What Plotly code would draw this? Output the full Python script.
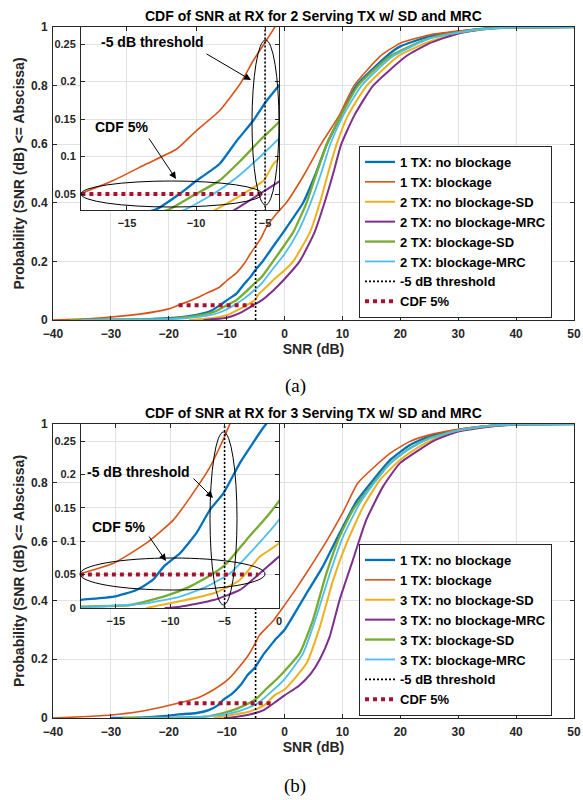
import plotly.graph_objects as go

W, H = 583, 800

# ---------------- data: panel (a), 2 serving TX ----------------
names_a = ['1 TX: no blockage', '1 TX: blockage', '2 TX: no blockage-SD',
           '2 TX: no blockage-MRC', '2 TX: blockage-SD', '2 TX: blockage-MRC']

a_blue_x = [-35, -30, -25, -20, -16, -12.85, -11.2, -9.95, -8.3, -7.05, -5.85, -4.9, -3.9, -2, -0.2,
            3.2, 5.4, 7.3, 9.8, 12.4, 17.6, 19.9, 25, 30, 35, 40, 50]
a_blue_y = [0, 0.001, 0.002, 0.006, 0.015, 0.03, 0.05, 0.068, 0.09, 0.121, 0.148, 0.174, 0.197, 0.25, 0.3,
            0.4, 0.5, 0.6, 0.7, 0.8, 0.9, 0.933, 0.968, 0.984, 0.995, 0.999, 1.0]
a_org_x = [-40, -35, -30, -25, -20, -18.4, -16, -13.6, -11.4, -10, -8.3, -6.8, -5.85, -4.9, -4.15, -3.1,
           -1.5, 0.3, 3.5, 6.3, 9.5, 12.0, 16.5, 19.9, 25, 30, 35, 40, 50]
a_org_y = [0, 0.003, 0.01, 0.02, 0.038, 0.05, 0.068, 0.09, 0.11, 0.134, 0.161, 0.197, 0.228, 0.255, 0.277,
           0.318, 0.36, 0.4, 0.5, 0.6, 0.7, 0.8, 0.9, 0.944, 0.973, 0.986, 0.995, 0.999, 1.0]
a_yel_x = [-16.5, -12, -10, -8.5, -6.6, -5.1, -4.4, -3.9, -2, 0, 1.5, 4.4, 6.1, 7.5, 9.0, 11.0, 14.2,
           19.6, 25, 30, 35, 40, 50]
a_yel_y = [0, 0.008, 0.016, 0.03, 0.05, 0.068, 0.09, 0.099, 0.135, 0.17, 0.2, 0.3, 0.4, 0.5, 0.6, 0.7, 0.8,
           0.9, 0.95, 0.978, 0.993, 0.999, 1.0]
a_pur_x = [-14, -10, -7.3, -5.4, -3.9, -2, 0, 2.6, 5.2, 6.9, 8.4, 9.8, 12.1, 15.3, 21, 25, 30, 35, 40, 50]
a_pur_y = [0, 0.008, 0.028, 0.05, 0.068, 0.1, 0.14, 0.2, 0.3, 0.4, 0.5, 0.6, 0.7, 0.8, 0.9, 0.944, 0.978,
           0.995, 0.999, 1.0]
a_grn_x = [-37, -30, -25, -20, -15, -11.9, -10.2, -8.3, -6.8, -5.4, -3.9, -2, 0, 1.5, 3.8, 5.5, 7.3, 9.8,
           12.7, 18.2, 25, 30, 35, 40, 50]
a_grn_y = [0, 0.001, 0.002, 0.004, 0.015, 0.03, 0.048, 0.068, 0.094, 0.121, 0.148, 0.2, 0.256, 0.3, 0.4,
           0.5, 0.6, 0.7, 0.8, 0.9, 0.962, 0.982, 0.994, 0.999, 1.0]
a_cyn_x = [-35, -30, -20, -15, -12.5, -10.7, -8.75, -7.05, -5.4, -3.9, -2, 0, 2.3, 4.5, 6.3, 7.9, 10.2,
           13.3, 18.7, 25, 30, 35, 40, 50]
a_cyn_y = [0, 0.0005, 0.003, 0.01, 0.018, 0.03, 0.05, 0.072, 0.099, 0.126, 0.175, 0.225, 0.3, 0.4, 0.5,
           0.6, 0.7, 0.8, 0.9, 0.96, 0.981, 0.994, 0.999, 1.0]
a_cdf5_x = [-18.3, -5.3]
a_cdf5_y = [0.05, 0.05]

# ---------------- data: panel (b), 3 serving TX ----------------
names_b = ['1 TX: no blockage', '1 TX: blockage', '3 TX: no blockage-SD',
           '3 TX: no blockage-MRC', '3 TX: blockage-SD', '3 TX: blockage-MRC']

b_blue_x = [-30, -25, -20.4, -18.3, -15.2, -13.1, -11.6, -10.6, -9.1, -7.6, -6.35, -5.1, -3.6, -2.4, -1.4,
            0, 3.8, 6.6, 9.5, 12.4, 15.3, 18.2, 21.6, 25, 30, 35, 40, 50]
b_blue_y = [0, 0.001, 0.007, 0.012, 0.017, 0.027, 0.042, 0.062, 0.082, 0.112, 0.147, 0.172, 0.217, 0.247,
            0.271, 0.3, 0.424, 0.515, 0.628, 0.736, 0.809, 0.877, 0.928, 0.958, 0.98, 0.993, 0.999, 1.0]
b_org_x = [-40, -35, -30, -25, -20.4, -18.3, -15.2, -12.2, -9.7, -7.9, -6.35, -5.1, -4.35, -2, 0, 2, 4.0,
           7.2, 10.1, 12.7, 18.2, 21.6, 25, 30, 35, 40, 50]
b_org_y = [0, 0.004, 0.01, 0.022, 0.041, 0.051, 0.067, 0.097, 0.132, 0.172, 0.211, 0.253, 0.281, 0.33,
           0.384, 0.44, 0.5, 0.6, 0.7, 0.8, 0.9, 0.94, 0.963, 0.982, 0.994, 0.999, 1.0]
b_yel_x = [-12.2, -9.1, -6.0, -3.6, -1.75, 0, 3.8, 6.1, 8.4, 10.7, 13.6, 16.5, 19.9, 23, 26, 30, 35, 40, 50]
b_yel_y = [0, 0.01, 0.022, 0.042, 0.077, 0.097, 0.186, 0.31, 0.47, 0.594, 0.719, 0.81, 0.877, 0.92, 0.95,
           0.976, 0.992, 0.999, 1.0]
b_pur_x = [-10.5, -9.1, -6.0, -3.6, -1.75, 0, 2.5, 4.5, 6.1, 7.8, 9.5, 11.8, 14.1, 17, 19.9, 22.8, 26, 30,
           35, 40, 50]
b_pur_y = [0, 0.002, 0.012, 0.027, 0.052, 0.077, 0.11, 0.15, 0.2, 0.277, 0.401, 0.537, 0.673, 0.787, 0.866,
           0.906, 0.945, 0.974, 0.99, 0.998, 1.0]
b_grn_x = [-28, -20, -18.3, -13.7, -10.6, -8.2, -6.0, -4.8, -3.0, -1.1, 0, 2.6, 4.9, 7.2, 9.5, 11.8, 15.3,
           18.2, 21.6, 25, 30, 35, 40, 50]
b_grn_y = [0, 0.001, 0.002, 0.0045, 0.017, 0.032, 0.052, 0.067, 0.102, 0.137, 0.16, 0.22, 0.333, 0.49,
           0.617, 0.707, 0.798, 0.866, 0.917, 0.952, 0.978, 0.993, 0.999, 1.0]
b_cyn_x = [-25, -18, -12.2, -9.1, -6.65, -4.5, -2.4, 0, 3.2, 5.5, 7.8, 10.1, 13, 15.9, 18.8, 22, 25, 30, 35,
           40, 50]
b_cyn_y = [0, 0.001, 0.007, 0.017, 0.032, 0.052, 0.087, 0.132, 0.22, 0.345, 0.49, 0.617, 0.73, 0.81, 0.877,
           0.92, 0.95, 0.978, 0.993, 0.999, 1.0]
b_cdf5_x = [-18.3, -1.9]
b_cdf5_y = [0.05, 0.05]

thr_x = [-5, -5]
thr_y = [0, 1]

titles = ['CDF of SNR at RX for 2 Serving TX w/ SD and MRC',
          'CDF of SNR at RX for 3 Serving TX w/ SD and MRC']
panel_labels = ['(a)', '(b)']
main_xticks = [-40, -30, -20, -10, 0, 10, 20, 30, 40, 50]
main_yticks = [0, 0.2, 0.4, 0.6, 0.8, 1]
main_yticktext = ['0', '0.2', '0.4', '0.6', '0.8', '1']
inset_a_xticks = [-15, -10, -5]
inset_a_yticks = [0.05, 0.1, 0.15, 0.2, 0.25]
inset_a_yticktext = ['0.05', '0.1', '0.15', '0.2', '0.25']
inset_b_xticks = [-15, -10, -5, 0]
inset_b_yticks = [0, 0.05, 0.1, 0.15, 0.2, 0.25]
inset_b_yticktext = ['0', '0.05', '0.1', '0.15', '0.2', '0.25']

colors = ['#0072BD', '#D95319', '#EDB120', '#7E2F8E', '#77AC30', '#4DBEEE']
widths = [2.3, 1.6, 2.0, 2.0, 2.3, 1.8]

FONT = 'Liberation Sans, Arial, sans-serif'
AX = '#262626'
GRID = '#e2e2e2'


def px(x):
    """window pixel (reference picture) -> paper fraction"""
    return x / W


def py(y):
    return 1 - y / H


fig = go.Figure()

panels = [
    dict(series=[(a_blue_x, a_blue_y), (a_org_x, a_org_y), (a_yel_x, a_yel_y), (a_pur_x, a_pur_y),
                 (a_grn_x, a_grn_y), (a_cyn_x, a_cyn_y)],
         names=names_a, cdf5=(a_cdf5_x, a_cdf5_y), main=('x', 'y'), inset=('x2', 'y2'), legend='legend'),
    dict(series=[(b_blue_x, b_blue_y), (b_org_x, b_org_y), (b_yel_x, b_yel_y), (b_pur_x, b_pur_y),
                 (b_grn_x, b_grn_y), (b_cyn_x, b_cyn_y)],
         names=names_b, cdf5=(b_cdf5_x, b_cdf5_y), main=('x3', 'y3'), inset=('x4', 'y4'), legend='legend2'),
]

for p in panels:
    for target, show in ((p['main'], True), (p['inset'], False)):
        for (xs, ys), nm, c, w in zip(p['series'], p['names'], colors, widths):
            fig.add_trace(go.Scatter(x=xs, y=ys, mode='lines', name=nm,
                                     line=dict(color=c, width=w, shape='spline', smoothing=0.5),
                                     xaxis=target[0], yaxis=target[1],
                                     legend=p['legend'], showlegend=show))
        fig.add_trace(go.Scatter(x=thr_x, y=thr_y, mode='lines', name='-5 dB threshold',
                                 line=dict(color='black', width=1.6, dash='2px,2px'),
                                 xaxis=target[0], yaxis=target[1],
                                 legend=p['legend'], showlegend=show))
        fig.add_trace(go.Scatter(x=p['cdf5'][0], y=p['cdf5'][1], mode='lines', name='CDF 5%',
                                 line=dict(color='#A2142F', width=4, dash='dot'),
                                 xaxis=target[0], yaxis=target[1],
                                 legend=p['legend'], showlegend=show))


def axstyle(size, standoff):
    return dict(showline=True, linecolor=AX, linewidth=1, mirror='ticks', ticks='inside',
                ticklen=4, tickcolor=AX, tickwidth=1, showgrid=True, gridcolor=GRID,
                gridwidth=1, zeroline=False, fixedrange=True, automargin=False,
                ticklabelstandoff=standoff,
                tickfont=dict(family=FONT, size=size, color=AX, weight='bold'))


title_font = dict(family=FONT, size=14, color=AX, weight='bold')

main_x_dom = [px(53), px(574)]
inset_x_dom = [px(81), px(279)]

fig.update_layout(
    width=W, height=H, margin=dict(l=0, r=0, t=0, b=0, autoexpand=False),
    paper_bgcolor='white', plot_bgcolor='white',
    xaxis=dict(domain=main_x_dom, anchor='y', range=[-40, 50], tickvals=main_xticks,
               title=dict(text='SNR (dB)', font=title_font, standoff=2), **axstyle(12, 3)),
    yaxis=dict(domain=[py(320), py(27)], anchor='x', range=[0, 1], tickvals=main_yticks,
               ticktext=main_yticktext,
               title=dict(text='Probability (SNR (dB) <= Abscissa)', font=title_font, standoff=3),
               **axstyle(12, 2)),
    xaxis2=dict(domain=inset_x_dom, anchor='y2', range=[-18.33, -3.99], tickvals=inset_a_xticks,
                **axstyle(11, 3)),
    yaxis2=dict(domain=[py(210), py(27)], anchor='x2', range=[0.0287, 0.2727], tickvals=inset_a_yticks,
                ticktext=inset_a_yticktext, **axstyle(11, 2)),
    xaxis3=dict(domain=main_x_dom, anchor='y3', range=[-40, 50], tickvals=main_xticks,
                title=dict(text='SNR (dB)', font=title_font, standoff=2), **axstyle(12, 3)),
    yaxis3=dict(domain=[py(718), py(424)], anchor='x3', range=[0, 1], tickvals=main_yticks,
                ticktext=main_yticktext,
                title=dict(text='Probability (SNR (dB) <= Abscissa)', font=title_font, standoff=3),
                **axstyle(12, 2)),
    xaxis4=dict(domain=inset_x_dom, anchor='y4', range=[-18.2, 0], tickvals=inset_b_xticks,
                **axstyle(11, 3)),
    yaxis4=dict(domain=[py(608), py(424)], anchor='x4', range=[0, 0.2755], tickvals=inset_b_yticks,
                ticktext=inset_b_yticktext, **axstyle(11, 2)),
    legend=dict(x=px(359), y=py(318), xanchor='left', yanchor='bottom', bgcolor='white',
                bordercolor=AX, borderwidth=1,
                font=dict(family=FONT, size=13, color='#000000', weight='bold')),
    legend2=dict(x=px(359), y=py(716), xanchor='left', yanchor='bottom', bgcolor='white',
                 bordercolor=AX, borderwidth=1,
                 font=dict(family=FONT, size=13, color='#000000', weight='bold')),
)

ann = []
shapes = []
# titles and panel labels
for t, yy in zip(titles, [16, 413]):
    ann.append(dict(text=t, x=px(313.5), y=py(yy), xref='paper', yref='paper', showarrow=False,
                    font=dict(family=FONT, size=14, color='black', weight='bold'),
                    xanchor='center', yanchor='middle'))
for t, yy in zip(panel_labels, [386, 786]):
    ann.append(dict(text=t, x=px(295), y=py(yy), xref='paper', yref='paper', showarrow=False,
                    font=dict(family='Liberation Serif, Times New Roman, serif', size=19, color='black'),
                    xanchor='center', yanchor='middle'))

lab_font = dict(family=FONT, size=14, color='black', weight='bold')
# inset callouts: (text, text center, arrow tail, arrow tip)
callouts = [
    ('-5 dB threshold', (152, 42), (205, 53), (251, 80)),
    ('CDF 5%', (121, 127), (148, 137), (176, 179)),
    ('-5 dB threshold', (138, 472), (192, 477), (213, 498)),
    ('CDF 5%', (118, 527), (148, 535), (166, 561)),
]
for txt, (tx, ty), (ax0, ay0), (x1, y1) in callouts:
    ann.append(dict(text=txt, x=px(tx), y=py(ty), xref='paper', yref='paper', showarrow=False,
                    font=lab_font, xanchor='center', yanchor='middle'))
    ann.append(dict(text='', x=px(x1), y=py(y1), xref='paper', yref='paper', showarrow=True,
                    ax=ax0 - x1, ay=ay0 - y1, arrowhead=2, arrowsize=1.4, arrowwidth=1,
                    arrowcolor='black'))

ellipses = [(252, 40, 279, 205), (81, 181, 262, 207), (210, 432, 237, 605), (80, 558, 265, 590)]
for x0, y0, x1, y1 in ellipses:
    shapes.append(dict(type='circle', xref='paper', yref='paper', x0=px(x0), x1=px(x1),
                       y0=py(y1), y1=py(y0), line=dict(color='black', width=1), layer='above'))

fig.update_layout(annotations=ann, shapes=shapes)
# place the figure flush with the window (no default body margin), no mode bar
fig.write_html('out.html', config={'displayModeBar': False},
               post_script="document.body.style.margin='0';")
